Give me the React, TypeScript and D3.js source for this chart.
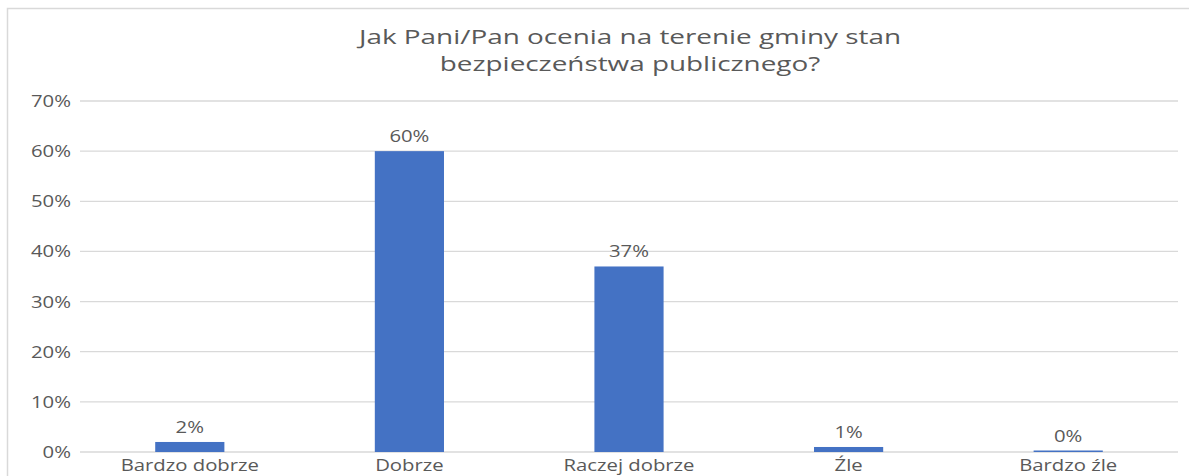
import React from "react";
import * as d3 from "d3";

const categories = ["Bardzo dobrze", "Dobrze", "Raczej dobrze", "Źle", "Bardzo źle"];
const values = [2, 60, 37, 1, 0];
const valueLabels = ["2%", "60%", "37%", "1%", "0%"];
const yTicks = [0, 10, 20, 30, 40, 50, 60, 70];
const titleLines = ["Jak Pani/Pan ocenia na terenie gminy stan", "bezpieczeństwa publicznego?"];

const W = 1189;
const H = 476;
const left = 80;
const right = 1178;
const top = 101;
const bottom = 452;
const font = "'Open Sans', sans-serif";
const textColor = "#595959";

function T({ x, y, size, children, anchor = "middle", sx = 1.31 }: any) {
  return (
    <text
      transform={`translate(${x},${y}) scale(${sx},1)`}
      textAnchor={anchor}
      fontFamily={font}
      fontSize={size}
      fill={textColor}
    >
      {children}
    </text>
  );
}

export default function App() {
  const x = d3.scaleBand<string>().domain(categories).range([left, right]).paddingInner(0.685).paddingOuter(0.3425);
  const y = d3.scaleLinear().domain([0, 70]).range([bottom, top]);
  return (
    <svg width={W} height={H} style={{ position: "absolute", left: 0, top: 0, background: "#fff" }}>
      <rect x={7.5} y={8.5} width={W} height={H} fill="#fff" stroke="#d9d9d9" strokeWidth={1.5} />
      {titleLines.map((t, i) => (
        <T key={i} x={630} y={44 + i * 26.5} size={20.5} sx={1.36}>{t}</T>
      ))}
      {yTicks.map((t) => (
        <g key={t}>
          <line x1={left} x2={right} y1={y(t)} y2={y(t)} stroke="#d9d9d9" strokeWidth={1.3} />
          <T x={71} y={y(t) + 6} size={15.5} anchor="end">{`${t}%`}</T>
        </g>
      ))}
      {categories.map((c, i) => {
        const h = Math.max(bottom - y(values[i]), 1.5);
        return (
          <g key={c}>
            <rect x={x(c)!} y={bottom - h} width={x.bandwidth()} height={h} fill="#4472C4" />
            <T x={x(c)! + x.bandwidth() / 2} y={bottom - h - 9} size={15.5}>{valueLabels[i]}</T>
            <T x={x(c)! + x.bandwidth() / 2} y={bottom + 19} size={15.5}>{c}</T>
          </g>
        );
      })}
    </svg>
  );
}
